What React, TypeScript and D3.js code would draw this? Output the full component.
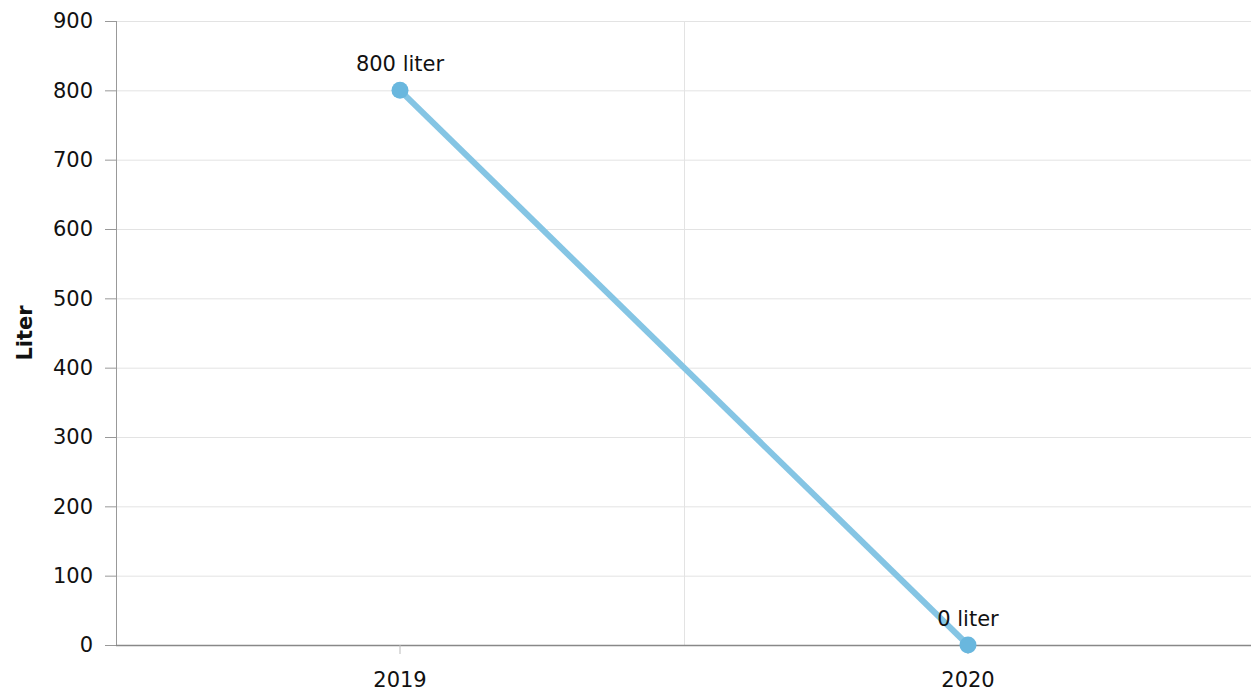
import { useEffect, useRef } from 'react';
import * as d3 from 'd3';

const years = ['2019', '2020'];
const liters = [800, 0];
const yTicks = [0, 100, 200, 300, 400, 500, 600, 700, 800, 900];
const yLabel = 'Liter';
const unit = 'liter';

const W = 1251;
const H = 695;

export default function App() {
  const svgRef = useRef<SVGSVGElement>(null);

  useEffect(() => {
    const svg = d3.select(svgRef.current);
    svg.selectAll('*').remove();

    const margin = { top: 21, right: -1, bottom: 50, left: 116 };
    const innerW = W - margin.left - margin.right;
    const innerH = H - margin.top - margin.bottom;
    const font = '"DejaVu Sans", Verdana, sans-serif';
    const fs = 21;

    const g = svg.append('g').attr('transform', `translate(${margin.left},${margin.top})`);

    const x = d3.scaleBand<string>().domain(years).range([0, innerW]);
    const y = d3.scaleLinear().domain([0, 900]).range([innerH, 0]);

    // horizontal grid
    g.append('g')
      .selectAll('line')
      .data(yTicks.filter(t => t > 0))
      .join('line')
      .attr('x1', 0)
      .attr('x2', innerW)
      .attr('y1', d => y(d) + 0.5)
      .attr('y2', d => y(d) + 0.5)
      .attr('stroke', '#e3e3e3');

    // vertical grid at band boundaries
    g.append('g')
      .selectAll('line')
      .data(years.slice(1))
      .join('line')
      .attr('x1', d => Math.round(x(d)!) + 0.5)
      .attr('x2', d => Math.round(x(d)!) + 0.5)
      .attr('y1', 0)
      .attr('y2', innerH)
      .attr('stroke', '#e3e3e3');

    // y axis
    const yAxis = g.append('g').call(
      d3.axisLeft(y).tickValues(yTicks).tickSize(11).tickPadding(12)
    );
    yAxis.select('.domain').attr('stroke', '#999').attr('d', `M0.5,${y(900)}V${innerH}`);
    yAxis.selectAll('.tick line').attr('stroke', '#999');
    yAxis.selectAll('text').attr('font-family', font).attr('font-size', fs).attr('fill', '#111');

    // x axis
    const xAxis = g.append('g').attr('transform', `translate(0,${innerH})`).call(
      d3.axisBottom(x).tickSize(9).tickPadding(18)
    );
    xAxis.select('.domain').attr('stroke', '#888').attr('stroke-width', 1.5).attr('d', `M0,0.5H${innerW}`);
    xAxis.selectAll('.tick line').attr('stroke', '#bbb');
    xAxis.selectAll('text').attr('font-family', font).attr('font-size', fs).attr('fill', '#111');

    // y label
    svg.append('text')
      .attr('transform', `translate(32,${margin.top + y(450)}) rotate(-90)`)
      .attr('text-anchor', 'middle')
      .attr('font-family', font)
      .attr('font-size', fs)
      .attr('font-weight', 'bold')
      .attr('fill', '#111')
      .text(yLabel);

    const pts = years.map((yr, i) => ({ yr, v: liters[i] }));
    const cx = (d: { yr: string }) => x(d.yr)! + x.bandwidth() / 2;

    const line = d3.line<{ yr: string; v: number }>().x(cx).y(d => y(d.v));
    g.append('path')
      .datum(pts)
      .attr('fill', 'none')
      .attr('stroke', '#85c5e4')
      .attr('stroke-width', 6)
      .attr('d', line);

    g.append('g')
      .selectAll('circle')
      .data(pts)
      .join('circle')
      .attr('cx', cx)
      .attr('cy', d => y(d.v))
      .attr('r', 8.5)
      .attr('fill', '#69b7de');

    g.append('g')
      .selectAll('text')
      .data(pts)
      .join('text')
      .attr('x', cx)
      .attr('y', d => y(d.v) - 19)
      .attr('text-anchor', 'middle')
      .attr('font-family', font)
      .attr('font-size', fs)
      .attr('fill', '#111')
      .text(d => `${d.v} ${unit}`);
  }, []);

  return (
    <div style={{ position: 'absolute', left: 0, top: 0 }}>
      <svg ref={svgRef} width={W} height={H} style={{ display: 'block', background: '#fff' }} />
    </div>
  );
}
